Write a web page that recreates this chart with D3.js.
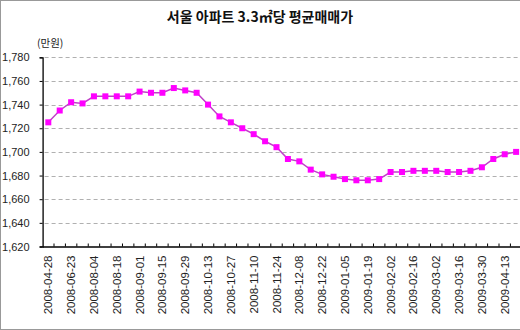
<!DOCTYPE html>
<html><head><meta charset="utf-8">
<script src="https://cdn.jsdelivr.net/npm/d3@7"></script>
<style>
html,body{margin:0;padding:0;background:#fff;}
svg{display:block;}
</style></head>
<body>
<svg id="c" width="520" height="330"></svg>
<script>
const title = "서울 아파트 3.3㎡당 평균매매가";
const unitLabel = "(만원)";
const dates = [
 "2008-04-28","2008-05-26","2008-06-23","2008-07-14","2008-08-04","2008-08-11",
 "2008-08-18","2008-08-25","2008-09-01","2008-09-08","2008-09-15","2008-09-22",
 "2008-09-29","2008-10-06","2008-10-13","2008-10-20","2008-10-27","2008-11-03",
 "2008-11-10","2008-11-17","2008-11-24","2008-12-01","2008-12-08","2008-12-15",
 "2008-12-22","2008-12-29","2009-01-05","2009-01-12","2009-01-19","2009-01-26",
 "2009-02-02","2009-02-09","2009-02-16","2009-02-23","2009-03-02","2009-03-09",
 "2009-03-16","2009-03-23","2009-03-30","2009-04-06","2009-04-13","2009-04-20"];
const prices = [
 1725,1735,1742,1741,1747,1747,1747,1747,1751,1750,1750,1754,
 1752,1750,1740,1730,1725,1720,1715,1709,1704,1694,1692,1685,
 1681,1679,1677,1676,1676,1677,1683,1683,1684,1684,1684,1683,
 1683,1684,1687,1694,1698,1700];
const yTicks = [1620,1640,1660,1680,1700,1720,1740,1760,1780];

const svg = d3.select("#c");
const W = 520, H = 330;
// outer border
svg.append("rect").attr("x",0.5).attr("y",0.5).attr("width",W).attr("height",H-1)
  .attr("fill","none").attr("stroke","#999");

const left = 42.6, step = 11.41;
const x = d3.scaleBand().domain(dates).range([left, left + step*dates.length]).padding(0);
const y = d3.scaleLinear().domain([1620,1780]).range([246.5, 57.3]);

// title
svg.append("text").attr("x",260).attr("y",22).attr("text-anchor","middle")
  .attr("font-family","'Noto Sans CJK KR', sans-serif").attr("font-weight","bold")
  .attr("font-size",14).attr("fill","#111").text(title);
svg.append("text").attr("x",37).attr("y",47)
  .attr("font-family","'Noto Sans CJK KR', sans-serif")
  .attr("font-size",10.5).attr("fill","#222").text(unitLabel);

// gridlines
svg.append("g").selectAll("line").data(yTicks.slice(1)).join("line")
  .attr("x1",left+2).attr("x2",W).attr("y1",d=>Math.round(y(d))+0.5).attr("y2",d=>Math.round(y(d))+0.5)
  .attr("stroke","#b0b0b0").attr("stroke-dasharray","4,3").attr("stroke-width",1);

// y axis
const yAxis = d3.axisLeft(y).tickValues(yTicks).tickSize(3).tickFormat(d3.format(","));
const gy = svg.append("g").attr("transform",`translate(${left},0)`).call(yAxis);
gy.select(".domain").attr("stroke","#000").attr("stroke-width",1.3);
gy.selectAll(".tick line").attr("stroke","#000");
gy.selectAll(".tick text").attr("x",-13).attr("font-family","'Liberation Sans', Arial, sans-serif")
  .attr("font-size",11).attr("fill","#222");

// x axis
const xAxis = d3.axisBottom(x).tickSize(0).tickFormat((d,i)=> i%2===0 ? d : "");
const gx = svg.append("g").attr("transform",`translate(0,${y(1620)})`).call(xAxis);
gx.select(".domain").attr("stroke","#000").attr("stroke-width",1.3);
gx.selectAll(".tick text")
  .attr("transform","rotate(-90)")
  .attr("x",-9).attr("y",0).attr("dy","0.35em")
  .attr("text-anchor","end")
  .attr("font-family","'Liberation Sans', Arial, sans-serif")
  .attr("font-size",11.5).attr("fill","#222");
// category boundary ticks (upward)
svg.append("g").selectAll("line").data(dates.slice(1)).join("line")
  .attr("x1",d=>x(d)).attr("x2",d=>x(d))
  .attr("y1",y(1620)).attr("y2",y(1620)-3)
  .attr("stroke","#000");

// line
const cx = d=>x(d)+x.bandwidth()/2;
const line = d3.line().x((d,i)=>cx(dates[i])).y(d=>y(d));
svg.append("path").datum(prices).attr("d",line).attr("fill","none")
  .attr("stroke","#c040c8").attr("stroke-width",1.5);
svg.append("g").selectAll("rect").data(prices).join("rect")
  .attr("x",(d,i)=>cx(dates[i])-3).attr("y",d=>y(d)-3)
  .attr("width",6).attr("height",6).attr("fill","#ff00ff");
</script>
</body></html>
